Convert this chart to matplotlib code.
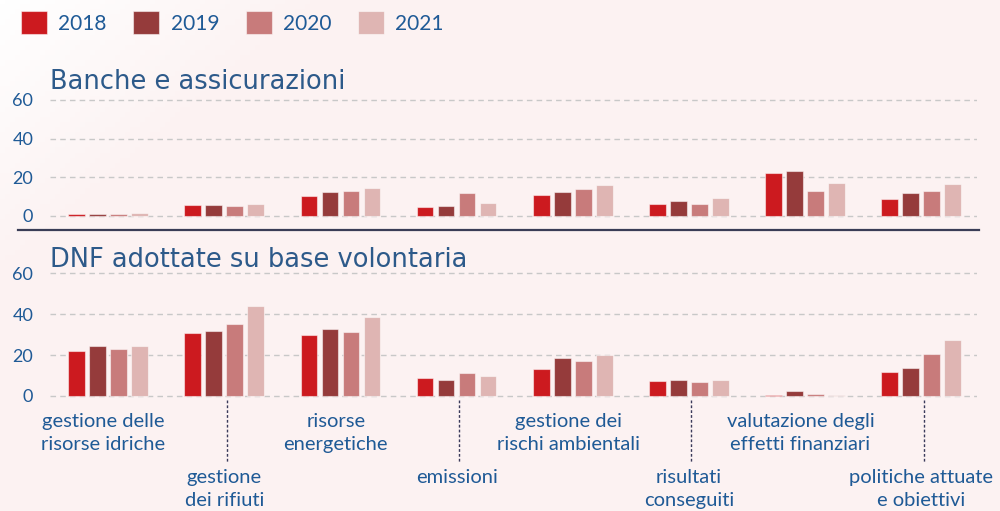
import numpy as np
import matplotlib
matplotlib.use("Agg")
import matplotlib.pyplot as plt
from matplotlib.lines import Line2D
from matplotlib.transforms import blended_transform_factory

years = ["2018", "2019", "2020", "2021"]
colors = ["#cc1a1f", "#953b3b", "#c87b7b", "#dfb5b3"]

categories = ["gestione delle\nrisorse idriche", "gestione\ndei rifiuti",
              "risorse\nenergetiche", "emissioni",
              "gestione dei\nrischi ambientali", "risultati\nconseguiti",
              "valutazione degli\neffetti finanziari", "politiche attuate\ne obiettivi"]

# Banche e assicurazioni
banche = {
    "2018": [0.8, 5.4, 10.0, 4.3, 10.9, 5.9, 22.1, 8.5],
    "2019": [1.0, 5.7, 12.1, 4.8, 12.3, 7.6, 23.0, 11.6],
    "2020": [1.1, 4.8, 12.8, 11.6, 13.6, 6.2, 12.6, 12.6],
    "2021": [1.4, 6.2, 14.3, 6.4, 15.9, 9.0, 16.8, 16.2],
}
# DNF adottate su base volontaria
dnf = {
    "2018": [22.0, 30.6, 29.8, 8.8, 13.0, 7.2, 0.5, 11.9],
    "2019": [24.4, 31.7, 32.8, 8.0, 18.5, 7.6, 2.4, 13.5],
    "2020": [22.8, 35.3, 31.2, 11.2, 17.1, 6.7, 0.8, 20.7],
    "2021": [24.4, 43.9, 38.7, 9.8, 20.0, 7.8, 0.7, 27.5],
}
yticks = [0, 20, 40, 60]

txt_blue = "#1f5a96"
title_blue = "#2d5a8a"

fig = plt.figure(figsize=(10, 5.11), dpi=100)

# soft pink background, whiter in the top-left corner
bg = fig.add_axes([0, 0, 1, 1], zorder=-10)
gx, gy = np.meshgrid(np.linspace(0, 1, 200), np.linspace(0, 1, 100))
s = np.clip((gx + gy * 0.6) * 3.0, 0, 1)[..., None]
white = np.array([1.0, 1.0, 1.0])
pink = np.array([252, 242, 242]) / 255
bg.imshow(white * (1 - s) + pink * s, aspect="auto", extent=[0, 1, 0, 1], origin="upper")
bg.axis("off")

ax1 = fig.add_axes([0.05, 0.5742, 0.927, 0.2378])
ax2 = fig.add_axes([0.05, 0.2211, 0.927, 0.2521])

x = np.arange(len(categories))
w = 0.144
step = 0.181

for ax, data in [(ax1, banche), (ax2, dnf)]:
    ax.set_facecolor("none")
    for i, y in enumerate(years):
        ax.bar(x + (i - 1.5) * step, data[y], width=w, color=colors[i],
               edgecolor=(1, 1, 1, 0.5), linewidth=0.8, label=y, zorder=3)
    ax.set_xlim(-0.5, 7.48)
    ax.set_ylim(-1, 62)
    ax.set_yticks(yticks)
    ax.set_xticks([])
    ax.grid(axis="y", color="#c8c8c8", linestyle=(0, (4, 3)), linewidth=1, zorder=0)
    ax.tick_params(axis="y", length=0, pad=12, labelsize=13, labelcolor=txt_blue)
    for lab in ax.get_yticklabels():
        lab.set_fontfamily("Lato")
    for sp in ax.spines.values():
        sp.set_visible(False)

fig.text(0.05, 1 - 89 / 511, "Banche e assicurazioni", fontsize=18.5, color=title_blue,
         va="baseline", ha="left")
fig.text(0.05, 1 - 267 / 511, "DNF adottate su base volontaria", fontsize=18.5,
         color=title_blue, va="baseline", ha="left")

# separator between the two panels
fig.add_artist(Line2D([0.0177, 0.979], [1 - 230 / 511] * 2, color="#3a3d56", linewidth=1.6))

# category labels, alternating rows
tr = blended_transform_factory(ax2.transData, fig.transFigure)
for i, cat in enumerate(categories):
    if i % 2 == 0:
        ax2.text(i - 0.04, 1 - 413 / 511, cat, transform=tr, ha="center", va="top",
                 fontsize=14.5, color=txt_blue, family="Lato", linespacing=1.45, clip_on=False)
    else:
        ax2.text(i, 1 - 469 / 511, cat, transform=tr, ha="center", va="top",
                 fontsize=14.5, color=txt_blue, family="Lato", linespacing=1.45, clip_on=False)
        ax2.plot([i + 0.02, i + 0.02], [1 - 400 / 511, 1 - 463 / 511], transform=tr,
                 color="#3a3a5a", linestyle=(0, (2, 1.5)), linewidth=1, clip_on=False)

handles, labels = ax1.get_legend_handles_labels()
fig.legend(handles, labels, loc="center left", bbox_to_anchor=(0.002, 1 - 22.5 / 511),
           ncol=4, frameon=False, handlelength=1.25, handleheight=1.25,
           handletextpad=0.55, columnspacing=1.27, labelcolor=txt_blue,
           prop={"family": "Lato", "size": 15})

fig.savefig("out.png", dpi=100)
